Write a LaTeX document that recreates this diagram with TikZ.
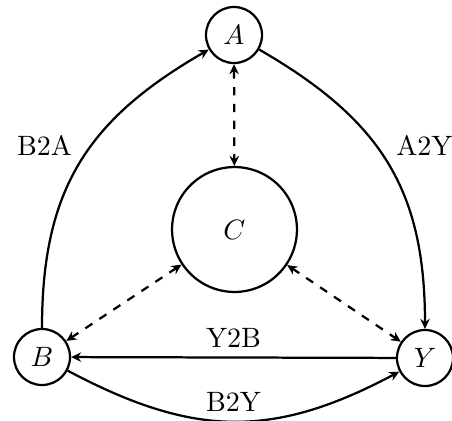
\documentclass[tikz,border=0pt]{standalone}
\usetikzlibrary{arrows.meta}
\begin{document}
\begin{tikzpicture}[x=0.3571pt,y=-0.3571pt,
  vtx/.style={circle,draw,thick,minimum size=20pt,inner sep=0pt},
  big/.style={circle,draw,thick,minimum size=44.6pt,inner sep=0pt},
  tip/.style={-{Stealth[length=3.6pt,width=3.4pt,inset=1.2pt]}},
  link/.style={thick,tip},
  dlink/.style={thick,dashed,{Stealth[length=3.6pt,width=3.4pt,inset=1.2pt]}-{Stealth[length=3.6pt,width=3.4pt,inset=1.2pt]}},
  lbl/.style={inner sep=0pt}]
\useasboundingbox (0,0) rectangle (452,421);
% vertices
\node[vtx] (A) at (234,35) {$A$};
\node[vtx] (B) at (42,357) {$B$};
\node[vtx] (Y) at (425,358) {$Y$};
\node[big] (C) at (234.5,229.5) {$C$};
% directed edges
\draw[link] (B) to[out=90,in=210,looseness=1.1] (A);
\draw[link] (A) to[out=-30,in=90,looseness=1.1] (Y);
\draw[link] (Y) -- (B);
\draw[link] (B) to[out=-28,in=208,looseness=1.1] (Y);
% two-way dashed links to the centre
\draw[dlink] (A) -- (C);
\draw[dlink] (C) -- (B);
\draw[dlink] (C) -- (Y);
% edge labels
\node[lbl] (lBA) at (44.5,145) {B2A};
\node[lbl] (lAY) at (424.5,145) {A2Y};
\node[lbl] (lYB) at (233.5,338) {Y2B};
\node[lbl] (lBY) at (233.5,402) {B2Y};
\end{tikzpicture}
\end{document}
